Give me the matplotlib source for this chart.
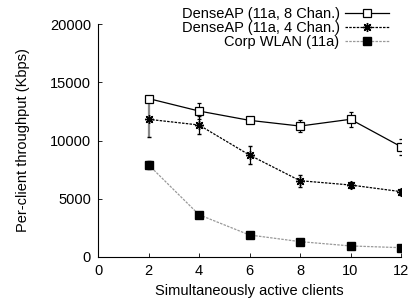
import matplotlib
matplotlib.use("Agg")
import matplotlib.pyplot as plt
from matplotlib.lines import Line2D

clients = [2, 4, 6, 8, 10, 12]
dense8 = [13600, 12530, 11730, 11240, 11820, 9470]
dense8_err = [250, 700, 250, 550, 650, 700]
dense4 = [11820, 11330, 8750, 6550, 6180, 5610]
dense4_err = [1550, 750, 800, 500, 250, 250]
corp = [7920, 3630, 1890, 1320, 950, 800]
corp_err = [350, 150, 100, 80, 60, 60]
labels = ["DenseAP (11a, 8 Chan.)", "DenseAP (11a, 4 Chan.)", "Corp WLAN (11a)"]

plt.rcParams['font.family'] = ['Liberation Sans', 'DejaVu Sans']
plt.rcParams['font.size'] = 10.5

fig = plt.figure(figsize=(4.11, 3.03), dpi=100)
ax = fig.add_axes([98/411, (303-257)/303, (401-98)/411, (257-24)/303])

st8 = dict(color='black', lw=0.9, marker='s', mfc='white', mec='black', ms=5.5, mew=0.9)
st4 = dict(color='black', lw=0.9, ls=(0, (2, 1)), marker=(8, 2, 0), mec='black', ms=6.5, mew=1.0)
stc = dict(color='#999999', lw=0.9, ls=(0, (2, 1)), marker='s', mfc='black', mec='black', ms=6)

ax.errorbar(clients, dense8, yerr=dense8_err, capsize=1.5, elinewidth=0.8, ecolor='black', **st8)
e4 = ax.errorbar(clients, dense4, yerr=dense4_err, capsize=1.5, elinewidth=0.9, ecolor='black', **st4)
e4[2][0].set_colors(['#888888'] + ['black'] * (len(clients) - 1))
e4[2][0].set_linewidths([1.6] + [0.9] * (len(clients) - 1))
ax.errorbar(clients, corp, yerr=corp_err, capsize=1.5, elinewidth=0.8, ecolor='black', **stc)

ax.set_xlim(0, 12)
ax.set_ylim(0, 20000)
ax.set_xticks([0, 2, 4, 6, 8, 10, 12])
ax.set_yticks([0, 5000, 10000, 15000, 20000])
ax.spines['top'].set_visible(False)
ax.spines['right'].set_visible(False)
ax.tick_params(direction='in', length=3, width=0.6, labelsize=10.5, pad=5)
for s in ['left', 'bottom']:
    ax.spines[s].set_linewidth(0.8)
ax.set_xlabel("Simultaneously active clients", fontsize=10.5, labelpad=4)
ax.set_ylabel("Per-client throughput (Kbps)", fontsize=10.5, labelpad=14)

handles = [Line2D([], [], **st8), Line2D([], [], **st4), Line2D([], [], **stc)]
leg = fig.legend(handles, labels, loc='upper right', bbox_to_anchor=(392/411, 1 - 4/303), frameon=False,
                 markerfirst=False, fontsize=10.5, handlelength=3.0, labelspacing=0.0,
                 handletextpad=0.4, borderaxespad=0.1, borderpad=0.1)
for t in leg.get_texts():
    t.set_ha('right')

fig.savefig("out.png", dpi=100)
